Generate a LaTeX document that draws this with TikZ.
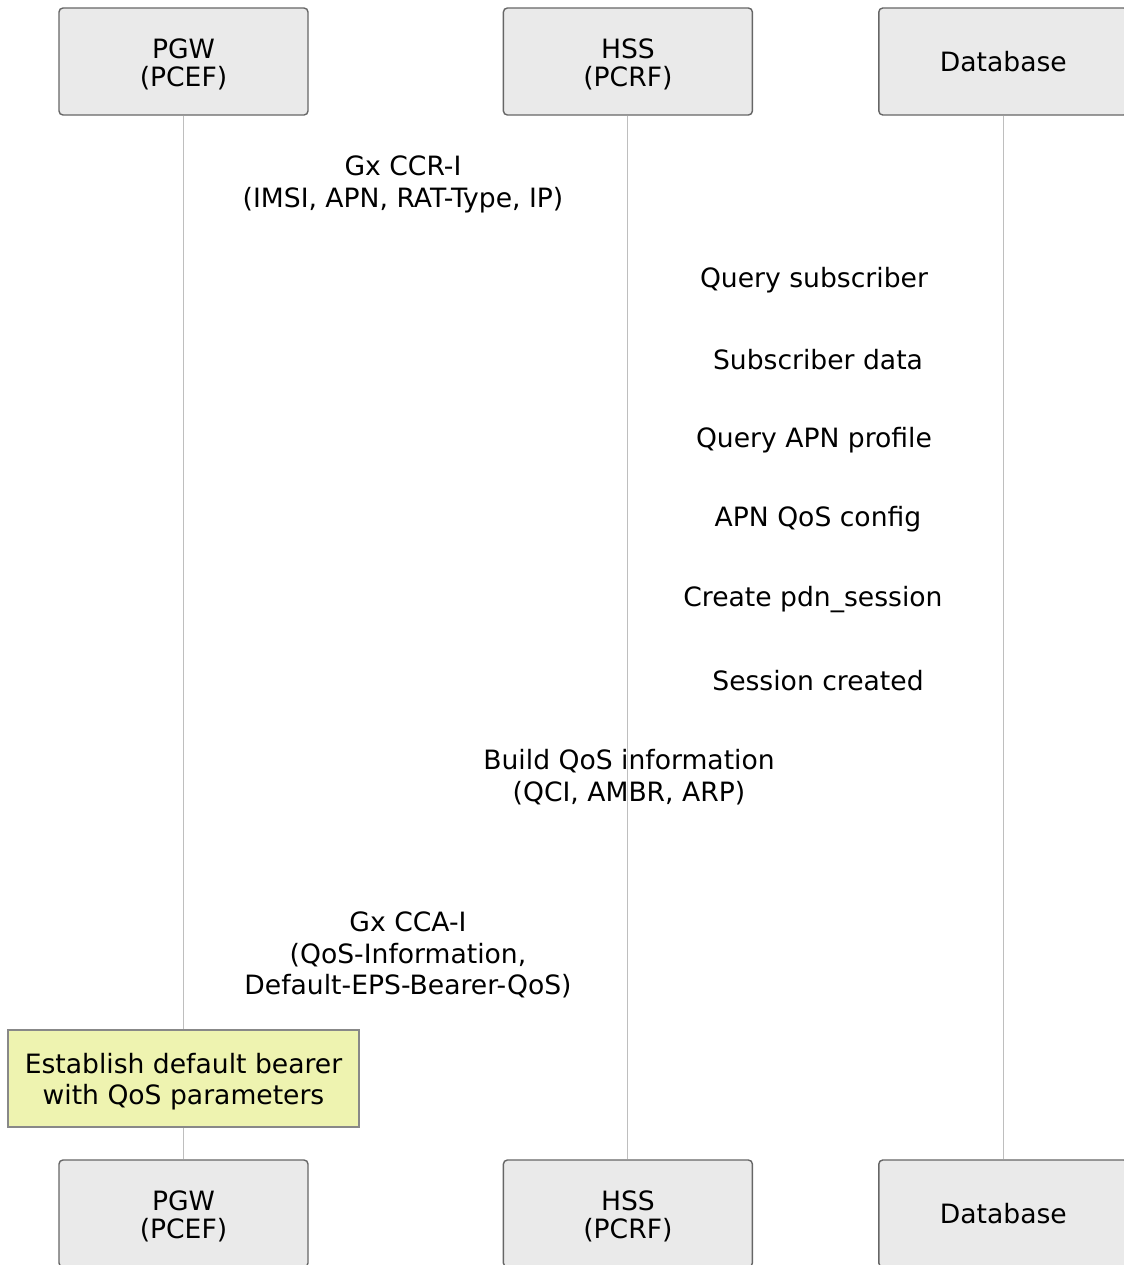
\documentclass[tikz,border=0pt]{standalone}
\usepackage{fontspec}
\setmainfont{DejaVu Sans}
\usepackage{tikz}
\usetikzlibrary{positioning}
\definecolor{BoxGray}{RGB}{234,234,234}
\definecolor{EdgeGray}{RGB}{102,102,102}
\definecolor{LifeGray}{RGB}{190,190,190}
\definecolor{NoteYellow}{RGB}{238,243,176}
\definecolor{NoteEdge}{RGB}{136,136,136}
\newcommand{\lowtext}[2]{\raisebox{-#1}[\height][\depth]{\begin{tabular}{@{}c@{}}#2\end{tabular}}}

\begin{document}
\begin{tikzpicture}[
    x=0.5pt, y=-0.5pt,
    % ── Node styles ──
    actor/.style = {rectangle, rounded corners=2pt,
                    draw=EdgeGray, fill=BoxGray, line width=0.7pt,
                    minimum width=124.5pt, minimum height=53.5pt,
                    font=\fontsize{13.3}{12.6}\selectfont, align=center, inner sep=0pt},
    note/.style  = {rectangle, draw=NoteEdge, fill=NoteYellow, line width=0.6pt,
                    minimum width=175.5pt, minimum height=48.5pt,
                    font=\fontsize{13.3}{15.8}\selectfont, align=center, inner sep=0pt},
    msg/.style   = {font=\fontsize{13.3}{15.8}\selectfont, align=center, inner sep=0pt},
    life/.style  = {LifeGray, line width=0.5pt},
]
\useasboundingbox (0,0) rectangle (1124,1265);

% =====================================================================
%  ACTORS (top row)
% =====================================================================
\node[actor] (pgw) at (183.5,61.5) {\lowtext{2.4pt}{PGW\\(PCEF)}};
\node[actor, right=97pt of pgw] (hss) {\lowtext{2.4pt}{HSS\\(PCRF)}};
\node[actor, right=62.5pt of hss] (db) {Database};

% =====================================================================
%  ACTORS (bottom row)
% =====================================================================
\node[actor] (pgwb) at (183.5,1213.5) {\lowtext{2.4pt}{PGW\\(PCEF)}};
\node[actor, right=97pt of pgwb] (hssb) {\lowtext{2.4pt}{HSS\\(PCRF)}};
\node[actor, right=62.5pt of hssb] (dbb) {Database};

% =====================================================================
%  MESSAGES
% =====================================================================
\node[msg] (ccr)   at (403,184.5) {Gx CCR-I\\(IMSI, APN, RAT-Type, IP)};
\node[msg] (qsub)  at (814,280.5) {Query subscriber};
\node[msg] (sdata) at (818,360) {Subscriber data};
\node[msg] (qapn)  at (814,440.5) {Query APN profile};
\node[msg] (aqos)  at (818,519.5) {APN QoS config};
\node[msg] (cpdn)  at (813,599.5) {Create pdn\_session};
\node[msg] (sdone) at (818,681) {Session created};
\node[msg] (bqos)  at (629,777) {Build QoS information\\(QCI, AMBR, ARP)};
\node[msg] (cca)   at (408,955) {Gx CCA-I\\(QoS-Information,\\Default-EPS-Bearer-QoS)};

% ── lifelines
\draw[life] (pgw.south) -- (pgwb.north);
\draw[life] (hss.south) -- (hssb.north);
\draw[life] (db.south)  -- (dbb.north);

% =====================================================================
%  NOTE over PGW
% =====================================================================
\node[note] (bearer) at (183.5,1078.5) {\lowtext{2pt}{Establish default bearer\\with QoS parameters}};

\end{tikzpicture}
\end{document}
